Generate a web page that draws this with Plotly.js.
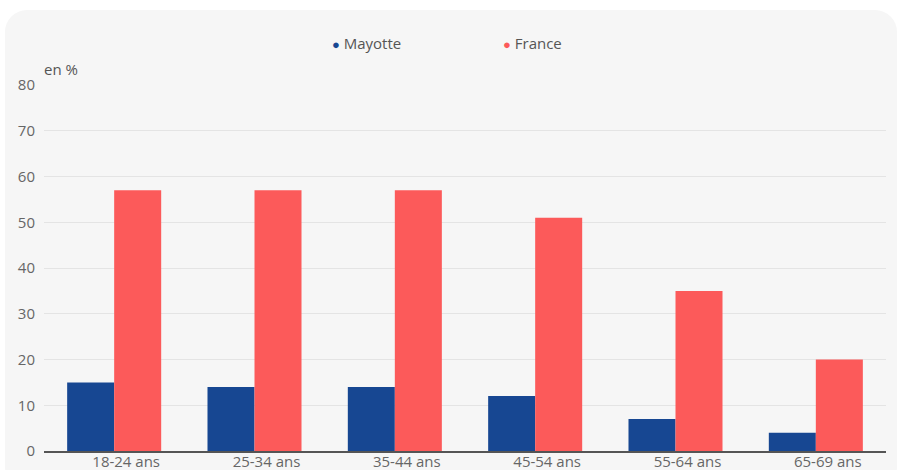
<!DOCTYPE html>
<html>
<head>
<meta charset="utf-8">
<script src="https://cdn.plot.ly/plotly-3.0.1.min.js"></script>
<style>
html,body{margin:0;padding:0;background:#fff;width:901px;height:470px;overflow:hidden;}
#bg{position:absolute;left:5px;top:10px;width:892px;height:480px;background:#f6f6f6;border-radius:22px;}
#chart{position:absolute;left:0;top:0;width:901px;height:470px;}
</style>
</head>
<body>
<div id="bg"></div>
<div id="chart"></div>
<script>
const categories = ["18-24 ans","25-34 ans","35-44 ans","45-54 ans","55-64 ans","65-69 ans"];
const mayotte = [15,14,14,12,7,4];
const france = [57,57,57,51,35,20];
const yTicks = [0,10,20,30,40,50,60,70,80];
const seriesNames = ["Mayotte","France"];

const blue = "#174792", red = "#fc5a5a";
const dot = c => "<span style='color:" + c + ";font-size:13px'>●</span> ";

const traces = [
  {type:"bar", name:seriesNames[0], x:categories, y:mayotte, marker:{color:blue}, showlegend:false},
  {type:"bar", name:seriesNames[1], x:categories, y:france, marker:{color:red}, showlegend:false},
  {type:"scatter", mode:"markers", name:dot(blue) + seriesNames[0], x:[null], y:[null], marker:{color:"rgba(0,0,0,0)", size:1}, showlegend:true},
  {type:"scatter", mode:"markers", name:dot(red) + seriesNames[1], x:[null], y:[null], marker:{color:"rgba(0,0,0,0)", size:1}, showlegend:true}
];

const layout = {
  width:901, height:470,
  margin:{l:44, r:15, t:85, b:19},
  paper_bgcolor:"rgba(0,0,0,0)",
  plot_bgcolor:"rgba(0,0,0,0)",
  font:{family:"Open Sans, sans-serif", color:"#666", size:15},
  barmode:"group",
  bargap:0.33, bargroupgap:0,
  xaxis:{type:"category", showgrid:false, showline:true, linecolor:"#555", linewidth:1.5, ticks:"", ticklabelstandoff:-4, ticklabelshift:12, tickfont:{size:15, color:"#666"}, fixedrange:true},
  yaxis:{range:[0,80], tickvals:yTicks, showgrid:true, gridcolor:"#e4e4e4", gridwidth:1, zeroline:false, ticks:"", ticklabelstandoff:8, tickfont:{size:15, color:"#666"}, fixedrange:true},
  legend:{orientation:"h", x:(292-44)/842, xanchor:"left", y:(451-43)/366, yanchor:"middle", entrywidth:126, entrywidthmode:"pixels", font:{size:15, color:"#555"}, bgcolor:"rgba(0,0,0,0)"},
  annotations:[{text:"en %", xref:"paper", yref:"paper", x:-0.002, y:(451-69)/366, xanchor:"left", yanchor:"middle", showarrow:false, font:{size:15, color:"#555"}}]
};

Plotly.newPlot("chart", traces, layout, {displayModeBar:false, staticPlot:true});
</script>
</body>
</html>
